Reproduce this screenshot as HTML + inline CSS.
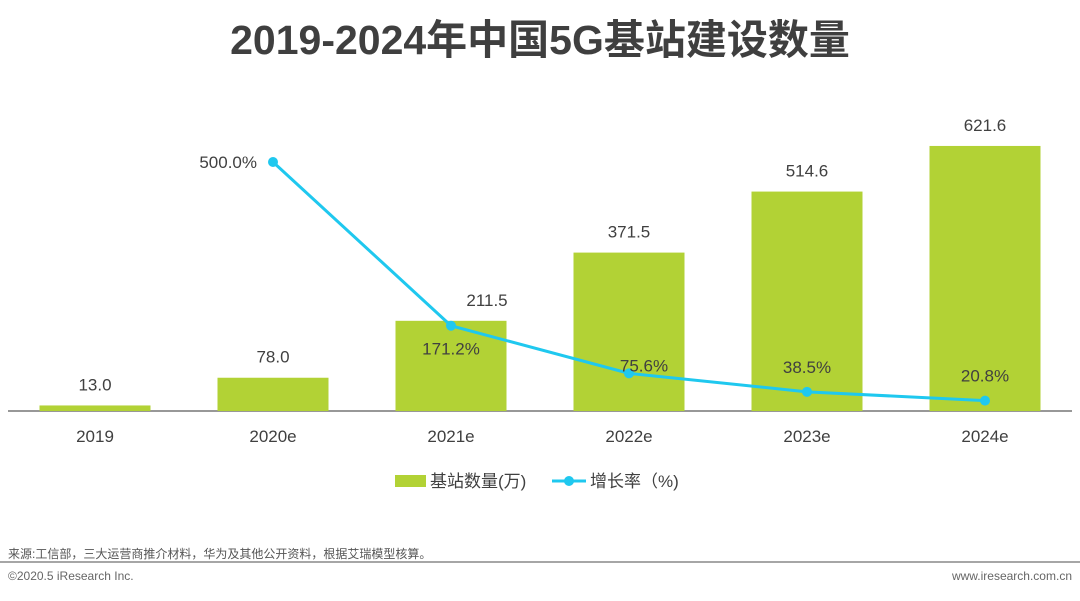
<!DOCTYPE html>
<html><head><meta charset="utf-8"><style>
body{margin:0;width:1080px;height:596px;background:#fff;overflow:hidden;font-family:"Liberation Sans","Noto Sans CJK SC",sans-serif}
</style></head><body>
<svg id="c" width="1080" height="596" xmlns="http://www.w3.org/2000/svg">
<text x="540" y="54" text-anchor="middle" font-size="41" font-weight="bold" fill="#3f3f3f" font-family="'Liberation Sans','Noto Sans CJK SC',sans-serif">2019-2024年中国5G基站建设数量</text>
<line x1="8" y1="411" x2="1072" y2="411" stroke="#777" stroke-width="1.5"/>
<g id="bars"></g><g id="line"></g><g id="labels"></g>
<g>
<rect x="395" y="475" width="31" height="12" fill="#b2d235"/>
<text x="430" y="487" font-size="17" fill="#404040">基站数量(万)</text>
<line x1="552" y1="481" x2="586" y2="481" stroke="#1fc8ef" stroke-width="3"/>
<circle cx="569" cy="481" r="5" fill="#1fc8ef"/>
<text x="590" y="487" font-size="17" fill="#404040">增长率（%)</text>
</g>
<text x="8" y="558" font-size="12" fill="#555">来源:工信部，三大运营商推介材料，华为及其他公开资料，根据艾瑞模型核算。</text>
<line x1="0" y1="562" x2="1080" y2="562" stroke="#888" stroke-width="1.5"/>
<text x="8" y="580" font-size="12" fill="#666">©2020.5 iResearch Inc.</text>
<text x="1072" y="580" text-anchor="end" font-size="12" fill="#666">www.iresearch.com.cn</text>
</svg>
<script>
const categories=["2019","2020e","2021e","2022e","2023e","2024e"];
const stations=[13.0,78.0,211.5,371.5,514.6,621.6];
const stationLabels=["13.0","78.0","211.5","371.5","514.6","621.6"];
const growth=[null,500.0,171.2,75.6,38.5,20.8];
const growthLabels=["","500.0%","171.2%","75.6%","38.5%","20.8%"];
const NS="http://www.w3.org/2000/svg";
const x=i=>95+i*178;
const yBar=v=>411-v*0.4264;
const yLine=v=>411-v*0.498;
function mk(t,a,p){const e=document.createElementNS(NS,t);for(const k in a)e.setAttribute(k,a[k]);document.getElementById(p).appendChild(e);return e;}
categories.forEach((c,i)=>{
 const b=mk("rect",{x:x(i)-55.5,y:yBar(stations[i]),width:111,height:411-yBar(stations[i]),fill:"#b2d235"},"bars");
 
 
 const t=mk("text",{x:x(i)+(i===2?36:0),y:yBar(stations[i])-15,"text-anchor":"middle","font-size":"17",fill:"#404040"},"labels");t.textContent=stationLabels[i];
 
 
 const xl=mk("text",{x:x(i),y:442,"text-anchor":"middle","font-size":"17",fill:"#404040"},"labels");xl.textContent=c;
 
 
});
let pts=[];growth.forEach((g,i)=>{if(g!==null)pts.push([x(i),yLine(g)]);});
const pl=mk("polyline",{points:pts.map(p=>p.join(",")).join(" "),fill:"none",stroke:"#1fc8ef","stroke-width":"3"},"line");


growth.forEach((g,i)=>{if(g===null)return;
 const cc=mk("circle",{cx:x(i),cy:yLine(g),r:5,fill:"#1fc8ef"},"line");
 
 
 let lx=x(i),ly=yLine(g)-22,anc="middle";
 if(i===1){lx=x(i)-16;ly=yLine(g)+6;anc="end";}
 else if(i===2){lx=x(i);ly=yLine(g)+29;}
 else if(i===3){lx=x(i)+15;ly=yLine(g)-2;}
 else {ly=yLine(g)-19;}
 const t=mk("text",{x:lx,y:ly,"text-anchor":anc,"font-size":"17",fill:"#404040"},"labels");t.textContent=growthLabels[i];
 
 
});
</script>
</body></html>
